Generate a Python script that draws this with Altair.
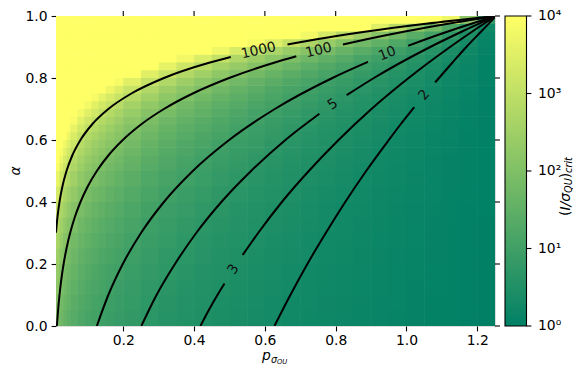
import altair as alt
import pandas as pd

# ---------------- heat-map grid (log10 of (I/sigma_QU)_crit) -------------
x_edges = [0.01, 0.02, 0.03, 0.04, 0.05, 0.07, 0.09, 0.11, 0.13, 0.15, 0.175, 0.20,
           0.25, 0.30, 0.35, 0.40, 0.45, 0.50, 0.55, 0.60, 0.65, 0.70, 0.75, 0.80,
           0.85, 0.90, 0.95, 1.00, 1.05, 1.10, 1.15, 1.20, 1.25]
alpha_edges = [0.00, 0.05, 0.10, 0.15, 0.20, 0.25, 0.30, 0.35, 0.40, 0.45, 0.50,
               0.525, 0.55, 0.575, 0.60, 0.625, 0.65, 0.675, 0.70, 0.725, 0.75,
               0.775, 0.80, 0.825, 0.85, 0.875, 0.90, 0.925, 0.95, 0.975, 1.00]

# one row per alpha band (bottom first), one value per x band
log_crit = [
    [1.97, 1.74, 1.59, 1.48, 1.35, 1.23, 1.13, 1.05, 0.98, 0.91,
     0.85, 0.77, 0.68, 0.60, 0.54, 0.48, 0.43, 0.39, 0.35, 0.31,
     0.28, 0.24, 0.21, 0.19, 0.16, 0.14, 0.11, 0.09, 0.07, 0.05, 0.03, 0.01],
    [2.08, 1.84, 1.68, 1.56, 1.43, 1.29, 1.19, 1.10, 1.03, 0.96,
     0.89, 0.81, 0.71, 0.63, 0.57, 0.51, 0.46, 0.41, 0.37, 0.33,
     0.29, 0.26, 0.23, 0.20, 0.17, 0.14, 0.12, 0.09, 0.07, 0.05, 0.03, 0.01],
    [2.20, 1.94, 1.78, 1.65, 1.51, 1.37, 1.26, 1.17, 1.09, 1.01,
     0.94, 0.85, 0.75, 0.67, 0.60, 0.54, 0.48, 0.43, 0.39, 0.35,
     0.31, 0.27, 0.24, 0.21, 0.18, 0.15, 0.13, 0.10, 0.08, 0.05, 0.03, 0.01],
    [2.33, 2.06, 1.88, 1.75, 1.60, 1.45, 1.33, 1.24, 1.15, 1.08,
     1.00, 0.90, 0.80, 0.71, 0.64, 0.57, 0.51, 0.46, 0.41, 0.37,
     0.33, 0.29, 0.25, 0.22, 0.19, 0.16, 0.13, 0.11, 0.08, 0.06, 0.03, 0.01],
    [2.48, 2.19, 2.01, 1.86, 1.70, 1.54, 1.42, 1.32, 1.23, 1.15,
     1.07, 0.96, 0.85, 0.76, 0.68, 0.61, 0.54, 0.49, 0.44, 0.39,
     0.35, 0.31, 0.27, 0.24, 0.20, 0.17, 0.14, 0.11, 0.09, 0.06, 0.04, 0.01],
    [2.65, 2.35, 2.14, 1.99, 1.82, 1.65, 1.51, 1.41, 1.31, 1.22,
     1.14, 1.03, 0.91, 0.81, 0.72, 0.65, 0.58, 0.52, 0.47, 0.42,
     0.37, 0.33, 0.29, 0.25, 0.22, 0.18, 0.15, 0.12, 0.09, 0.06, 0.04, 0.01],
    [2.85, 2.52, 2.30, 2.14, 1.96, 1.77, 1.63, 1.51, 1.41, 1.31,
     1.22, 1.11, 0.98, 0.87, 0.78, 0.70, 0.62, 0.56, 0.50, 0.45,
     0.40, 0.35, 0.31, 0.27, 0.23, 0.20, 0.16, 0.13, 0.10, 0.07, 0.04, 0.01],
    [3.08, 2.72, 2.49, 2.31, 2.11, 1.91, 1.76, 1.63, 1.52, 1.42,
     1.32, 1.19, 1.05, 0.94, 0.84, 0.75, 0.67, 0.60, 0.54, 0.48,
     0.43, 0.38, 0.33, 0.29, 0.25, 0.21, 0.17, 0.14, 0.11, 0.08, 0.04, 0.02],
    [3.34, 2.96, 2.70, 2.51, 2.30, 2.08, 1.91, 1.77, 1.66, 1.54,
     1.44, 1.30, 1.15, 1.02, 0.91, 0.82, 0.73, 0.66, 0.59, 0.53,
     0.47, 0.41, 0.36, 0.32, 0.27, 0.23, 0.19, 0.15, 0.12, 0.08, 0.05, 0.02],
    [3.66, 3.24, 2.96, 2.75, 2.51, 2.28, 2.09, 1.94, 1.81, 1.69,
     1.57, 1.42, 1.26, 1.12, 1.00, 0.90, 0.80, 0.72, 0.64, 0.58,
     0.51, 0.45, 0.40, 0.35, 0.30, 0.25, 0.21, 0.17, 0.13, 0.09, 0.05, 0.02],
    [3.94, 3.49, 3.19, 2.96, 2.71, 2.45, 2.25, 2.09, 1.95, 1.82,
     1.69, 1.53, 1.35, 1.20, 1.07, 0.96, 0.86, 0.78, 0.69, 0.62,
     0.55, 0.49, 0.43, 0.37, 0.32, 0.27, 0.22, 0.18, 0.14, 0.10, 0.06, 0.02],
    [4.00, 3.68, 3.36, 3.12, 2.85, 2.58, 2.37, 2.20, 2.06, 1.92,
     1.78, 1.61, 1.42, 1.27, 1.13, 1.02, 0.91, 0.82, 0.73, 0.65,
     0.58, 0.51, 0.45, 0.39, 0.34, 0.29, 0.24, 0.19, 0.14, 0.10, 0.06, 0.02],
    [4.00, 3.89, 3.55, 3.30, 3.02, 2.73, 2.51, 2.33, 2.18, 2.03,
     1.89, 1.71, 1.51, 1.34, 1.20, 1.07, 0.96, 0.86, 0.77, 0.69,
     0.61, 0.54, 0.48, 0.42, 0.36, 0.30, 0.25, 0.20, 0.15, 0.11, 0.06, 0.02],
    [4.00, 4.00, 3.77, 3.50, 3.20, 2.90, 2.66, 2.47, 2.31, 2.15,
     2.00, 1.81, 1.60, 1.42, 1.27, 1.14, 1.02, 0.92, 0.82, 0.73,
     0.65, 0.58, 0.51, 0.44, 0.38, 0.32, 0.26, 0.21, 0.16, 0.11, 0.07, 0.02],
    [4.00, 4.00, 4.00, 3.73, 3.41, 3.08, 2.83, 2.63, 2.46, 2.29,
     2.13, 1.93, 1.70, 1.51, 1.35, 1.21, 1.09, 0.98, 0.87, 0.78,
     0.69, 0.61, 0.54, 0.47, 0.40, 0.34, 0.28, 0.22, 0.17, 0.12, 0.07, 0.03],
    [4.00, 4.00, 4.00, 3.99, 3.64, 3.30, 3.03, 2.81, 2.63, 2.45,
     2.28, 2.06, 1.82, 1.62, 1.45, 1.30, 1.16, 1.04, 0.93, 0.83,
     0.74, 0.66, 0.58, 0.50, 0.43, 0.36, 0.30, 0.24, 0.18, 0.13, 0.08, 0.03],
    [4.00, 4.00, 4.00, 4.00, 3.91, 3.54, 3.25, 3.02, 2.82, 2.63,
     2.44, 2.21, 1.95, 1.74, 1.55, 1.39, 1.25, 1.12, 1.00, 0.89,
     0.80, 0.71, 0.62, 0.54, 0.46, 0.39, 0.32, 0.26, 0.20, 0.14, 0.08, 0.03],
    [4.00, 4.00, 4.00, 4.00, 4.00, 3.82, 3.51, 3.26, 3.05, 2.84,
     2.64, 2.39, 2.11, 1.88, 1.68, 1.50, 1.35, 1.21, 1.08, 0.97,
     0.86, 0.76, 0.67, 0.58, 0.50, 0.42, 0.35, 0.28, 0.21, 0.15, 0.09, 0.03],
    [4.00, 4.00, 4.00, 4.00, 4.00, 4.00, 3.82, 3.54, 3.31, 3.09,
     2.87, 2.59, 2.29, 2.04, 1.82, 1.63, 1.46, 1.31, 1.18, 1.05,
     0.94, 0.83, 0.73, 0.63, 0.54, 0.46, 0.38, 0.30, 0.23, 0.16, 0.10, 0.03],
    [4.00, 4.00, 4.00, 4.00, 4.00, 4.00, 4.00, 3.88, 3.63, 3.38,
     3.14, 2.84, 2.51, 2.23, 2.00, 1.79, 1.60, 1.44, 1.29, 1.15,
     1.02, 0.91, 0.80, 0.69, 0.59, 0.50, 0.42, 0.33, 0.26, 0.18, 0.11, 0.04],
    [4.00, 4.00, 4.00, 4.00, 4.00, 4.00, 4.00, 4.00, 4.00, 3.73,
     3.47, 3.14, 2.77, 2.47, 2.21, 1.98, 1.77, 1.59, 1.42, 1.27,
     1.13, 1.00, 0.88, 0.77, 0.66, 0.56, 0.46, 0.37, 0.28, 0.20, 0.12, 0.04],
    [4.00, 4.00, 4.00, 4.00, 4.00, 4.00, 4.00, 4.00, 4.00, 4.00,
     3.88, 3.51, 3.10, 2.76, 2.47, 2.21, 1.98, 1.78, 1.59, 1.42,
     1.27, 1.12, 0.98, 0.86, 0.73, 0.62, 0.51, 0.41, 0.32, 0.22, 0.13, 0.05],
    [4.00, 4.00, 4.00, 4.00, 4.00, 4.00, 4.00, 4.00, 4.00, 4.00,
     4.00, 3.98, 3.51, 3.13, 2.79, 2.51, 2.25, 2.02, 1.80, 1.61,
     1.43, 1.27, 1.11, 0.97, 0.83, 0.70, 0.58, 0.46, 0.36, 0.25, 0.15, 0.05],
    [4.00, 4.00, 4.00, 4.00, 4.00, 4.00, 4.00, 4.00, 4.00, 4.00,
     4.00, 4.00, 4.00, 3.61, 3.22, 2.89, 2.59, 2.33, 2.08, 1.86,
     1.66, 1.46, 1.29, 1.12, 0.96, 0.81, 0.67, 0.54, 0.41, 0.29, 0.17, 0.06],
    [4.00, 4.00, 4.00, 4.00, 4.00, 4.00, 4.00, 4.00, 4.00, 4.00,
     4.00, 4.00, 4.00, 4.00, 3.81, 3.42, 3.06, 2.75, 2.46, 2.20,
     1.96, 1.73, 1.52, 1.32, 1.13, 0.96, 0.79, 0.63, 0.49, 0.34, 0.20, 0.07],
    [4.00, 4.00, 4.00, 4.00, 4.00, 4.00, 4.00, 4.00, 4.00, 4.00,
     4.00, 4.00, 4.00, 4.00, 4.00, 4.00, 3.74, 3.36, 3.00, 2.68,
     2.39, 2.12, 1.86, 1.62, 1.39, 1.17, 0.97, 0.77, 0.60, 0.42, 0.25, 0.09],
    [4.00, 4.00, 4.00, 4.00, 4.00, 4.00, 4.00, 4.00, 4.00, 4.00,
     4.00, 4.00, 4.00, 4.00, 4.00, 4.00, 4.00, 4.00, 3.86, 3.45,
     3.07, 2.72, 2.39, 2.08, 1.78, 1.51, 1.25, 0.99, 0.77, 0.54, 0.32, 0.11],
    [4.00, 4.00, 4.00, 4.00, 4.00, 4.00, 4.00, 4.00, 4.00, 4.00,
     4.00, 4.00, 4.00, 4.00, 4.00, 4.00, 4.00, 4.00, 4.00, 4.00,
     4.00, 3.81, 3.34, 2.91, 2.50, 2.11, 1.74, 1.39, 1.07, 0.75, 0.45, 0.16],
    [4.00, 4.00, 4.00, 4.00, 4.00, 4.00, 4.00, 4.00, 4.00, 4.00,
     4.00, 4.00, 4.00, 4.00, 4.00, 4.00, 4.00, 4.00, 4.00, 4.00,
     4.00, 4.00, 4.00, 4.00, 4.00, 3.52, 2.91, 2.32, 1.79, 1.25, 0.75, 0.27],
    [4.00, 4.00, 4.00, 4.00, 4.00, 4.00, 4.00, 4.00, 4.00, 4.00,
     4.00, 4.00, 4.00, 4.00, 4.00, 4.00, 4.00, 4.00, 4.00, 4.00,
     4.00, 4.00, 4.00, 4.00, 4.00, 4.00, 4.00, 4.00, 4.00, 3.76, 2.24, 0.80],
]

# ---------------- contour lines (alpha, p), split at the labels -------------
c2_alpha = [[0.0, 0.1, 0.2, 0.3, 0.4, 0.5, 0.6, 0.65, 0.706], [0.786, 0.85, 0.9, 0.95, 1.0]]
c2_p = [[0.627, 0.672, 0.720, 0.772, 0.827, 0.886, 0.950, 0.983, 1.022], [1.081, 1.130, 1.169, 1.211, 1.253]]

c3_alpha = [[0.0, 0.05, 0.1, 0.137], [0.229, 0.25, 0.3, 0.4, 0.5, 0.6, 0.7, 0.8, 0.9, 0.95, 1.0]]
c3_p = [[0.418, 0.441, 0.466, 0.486], [0.537, 0.550, 0.581, 0.648, 0.724, 0.808, 0.901, 1.006, 1.123, 1.186, 1.253]]

c5_alpha = [[0.0, 0.1, 0.2, 0.3, 0.4, 0.5, 0.6, 0.6845], [0.7445, 0.8, 0.9, 0.95, 1.0]]
c5_p = [[0.251, 0.294, 0.346, 0.406, 0.477, 0.561, 0.658, 0.754], [0.831, 0.908, 1.067, 1.157, 1.253]]

c10_alpha = [[0.0, 0.1, 0.2, 0.3, 0.4, 0.5, 0.6, 0.7, 0.8, 0.852], [0.904, 0.925, 0.95, 0.975, 1.0]]
c10_p = [[0.1253, 0.1578, 0.1986, 0.2501, 0.3148, 0.3963, 0.4990, 0.6281, 0.7908, 0.8913],
         [1.0048, 1.0545, 1.1170, 1.1833, 1.2533]]

c100_alpha = [[0.0, 0.05, 0.1, 0.15, 0.2, 0.25, 0.3, 0.35, 0.4, 0.45, 0.5, 0.55, 0.6, 0.65,
               0.7, 0.75, 0.8, 0.85, 0.87], [0.908, 0.925, 0.95, 0.975, 1.0]]
c100_p = [[0.01253, 0.01578, 0.01986, 0.02501, 0.03148, 0.03963, 0.04990, 0.06281, 0.07908,
           0.09955, 0.12533, 0.15778, 0.19863, 0.25007, 0.31482, 0.39633, 0.49895, 0.62814, 0.6887],
          [0.8204, 0.8873, 0.9955, 1.1170, 1.2533]]

c1000_alpha = [[0.301, 0.32, 0.35, 0.375, 0.40, 0.45, 0.50, 0.55, 0.60, 0.65, 0.70, 0.75, 0.80,
                0.85, 0.868], [0.908, 0.925, 0.95, 0.975, 1.0]]
c1000_p = [[0.0100, 0.01143, 0.01406, 0.01671, 0.01986, 0.02806, 0.03963, 0.05598, 0.07908,
            0.1117, 0.1578, 0.2229, 0.3148, 0.4447, 0.5036], [0.6639, 0.7465, 0.8873, 1.0545, 1.2533]]

label_text = ["1000", "100", "10", "5", "3", "2"]
label_p = [0.582, 0.752, 0.946, 0.792, 0.511, 1.050]
label_alpha = [0.888, 0.889, 0.878, 0.7145, 0.183, 0.745]
label_angle = [347, 345.5, 338, 325, 302, 309.5]

cbar_decades = [0, 1, 2, 3, 4]
cbar_labels = ["10⁰", "10¹", "10²", "10³", "10⁴"]
x_ticks = [0.2, 0.4, 0.6, 0.8, 1.0, 1.2]
y_ticks = [0.0, 0.2, 0.4, 0.6, 0.8, 1.0]

# ---------------- tables ----------------
cells = []
for i in range(len(alpha_edges) - 1):
    for j in range(len(x_edges) - 1):
        cells.append({"x0": x_edges[j], "x1": x_edges[j + 1],
                      "a0": alpha_edges[i], "a1": alpha_edges[i + 1],
                      "v": log_crit[i][j]})
heat_df = pd.DataFrame(cells)

rows = []
for name, alist, plist in [("2", c2_alpha, c2_p), ("3", c3_alpha, c3_p), ("5", c5_alpha, c5_p),
                           ("10", c10_alpha, c10_p), ("100", c100_alpha, c100_p),
                           ("1000", c1000_alpha, c1000_p)]:
    for s, (aa, pp) in enumerate(zip(alist, plist)):
        for k, (a, p) in enumerate(zip(aa, pp)):
            rows.append({"seg": f"{name}_{s}", "i": k, "p": p, "a": a})
line_df = pd.DataFrame(rows)

lab_df = pd.DataFrame({"t": label_text, "p": label_p, "a": label_alpha, "ang": label_angle})
cb_df = pd.DataFrame({"d": cbar_decades, "lab": cbar_labels})
xt_df = pd.DataFrame({"v": x_ticks})
yt_df = pd.DataFrame({"v": y_ticks})

FONT = "DejaVu Sans"
FS = 13.9
W, H = 439, 310
xs = alt.Scale(domain=[0.01, 1.25], nice=False, zero=False)
ys = alt.Scale(domain=[0, 1], nice=False, zero=False)
cscale = alt.Scale(domain=[0, 4], range=["#008066", "#ffff66"], interpolate="rgb")

heat = alt.Chart(heat_df).mark_rect(clip=True, x2Offset=0.6, y2Offset=-0.6).encode(
    x=alt.X("x0:Q", scale=xs, axis=alt.Axis(orient="bottom", values=x_ticks, format=".1f",
                                            title=None, grid=False, domain=False,
                                            tickSize=4.9, tickWidth=1.1, tickColor="black",
                                            labelFontSize=FS, labelFont=FONT, labelColor="black",
                                            labelPadding=3)),
    x2="x1:Q",
    y=alt.Y("a0:Q", scale=ys, axis=alt.Axis(orient="left", values=y_ticks, format=".1f",
                                           title=None, grid=False, domain=False,
                                           tickSize=4.9, tickWidth=1.1, tickColor="black",
                                           labelFontSize=FS, labelFont=FONT, labelColor="black",
                                           labelPadding=4)),
    y2="a1:Q",
    color=alt.Color("v:Q", scale=cscale,
                    legend=alt.Legend(type="gradient", orient="none", legendX=449, legendY=0,
                                      direction="vertical",
                                      gradientLength=H, gradientThickness=21.5,
                                      gradientStrokeColor="black", gradientStrokeWidth=1.1,
                                      values=[0, 4], labelExpr="''", labelOpacity=0,
                                      labelFontSize=1,
                                      title=None, padding=0)),
)

lines = alt.Chart(line_df).mark_line(color="black", strokeWidth=2, clip=True,
                                     interpolate="monotone").encode(
    x=alt.X("p:Q", scale=xs),
    y=alt.Y("a:Q", scale=ys),
    detail="seg:N",
    order="i:Q",
)

labels = alt.Chart(lab_df).mark_text(font=FONT, fontSize=FS, color="#111111",
                                     align="center", baseline="middle").encode(
    x=alt.X("p:Q", scale=xs),
    y=alt.Y("a:Q", scale=ys),
    text="t:N",
    angle=alt.Angle("ang:Q", scale=None),
)

# mirrored ticks on top and right, colour-bar ticks and labels
top_ticks = alt.Chart(xt_df).mark_rule(color="black", strokeWidth=1.1).encode(
    x=alt.X("v:Q", scale=xs), y=alt.value(-4.9), y2=alt.value(0))
right_ticks = alt.Chart(yt_df).mark_rule(color="black", strokeWidth=1.1).encode(
    y=alt.Y("v:Q", scale=ys), x=alt.value(W), x2=alt.value(W + 4.9))
cb_base = alt.Chart(cb_df).transform_calculate(yy="datum.d / 4")
cbticks = cb_base.mark_rule(color="black", strokeWidth=1.1).encode(
    y=alt.Y("yy:Q", scale=ys), x=alt.value(470.5), x2=alt.value(475.4))
cblabels = cb_base.mark_text(font=FONT, fontSize=FS, color="black", align="left",
                             baseline="middle").encode(
    y=alt.Y("yy:Q", scale=ys), x=alt.value(482), text="lab:N")

one = pd.DataFrame({"k": [0]})


def txt(s, x, y, size, angle=0, style="italic"):
    return alt.Chart(one).mark_text(text=s, font=FONT, fontSize=size, fontStyle=style,
                                    color="black", align="left", baseline="alphabetic",
                                    angle=angle).encode(x=alt.value(x), y=alt.value(y))


alpha_title = alt.Chart(one).mark_text(text="α", font=FONT, fontSize=FS, fontStyle="italic",
                                       color="black", align="center", baseline="middle",
                                       angle=270).encode(x=alt.value(-40), y=alt.value(155))

xt = [txt("p", 206, 344, FS), txt("σ", 215, 346.5, 9.7), txt("QU", 221, 347.5, 6.8)]
ct = [txt("(", 513.5, 200, FS, 270, "normal"), txt("I/σ", 513.5, 194.6, FS, 270),
      txt("QU", 516, 177, 9.7, 270), txt(")", 513.5, 162.3, FS, 270, "normal"),
      txt("crit", 516, 156.9, 9.7, 270)]

chart = alt.layer(heat, lines, labels, top_ticks, right_ticks, cbticks, cblabels,
                  alpha_title, *xt, *ct
).properties(
    width=W, height=H,
    padding={"left": 48, "top": 8, "right": 78, "bottom": 38},
    autosize=alt.AutoSizeParams(type="none"),
).configure_view(stroke="black", strokeWidth=1.1).configure_legend(
    gradientVerticalMaxLength=H, gradientVerticalMinLength=H
).configure(font=FONT, background="white")

chart.save("out.html", embed_options={"renderer": "svg", "actions": False})
